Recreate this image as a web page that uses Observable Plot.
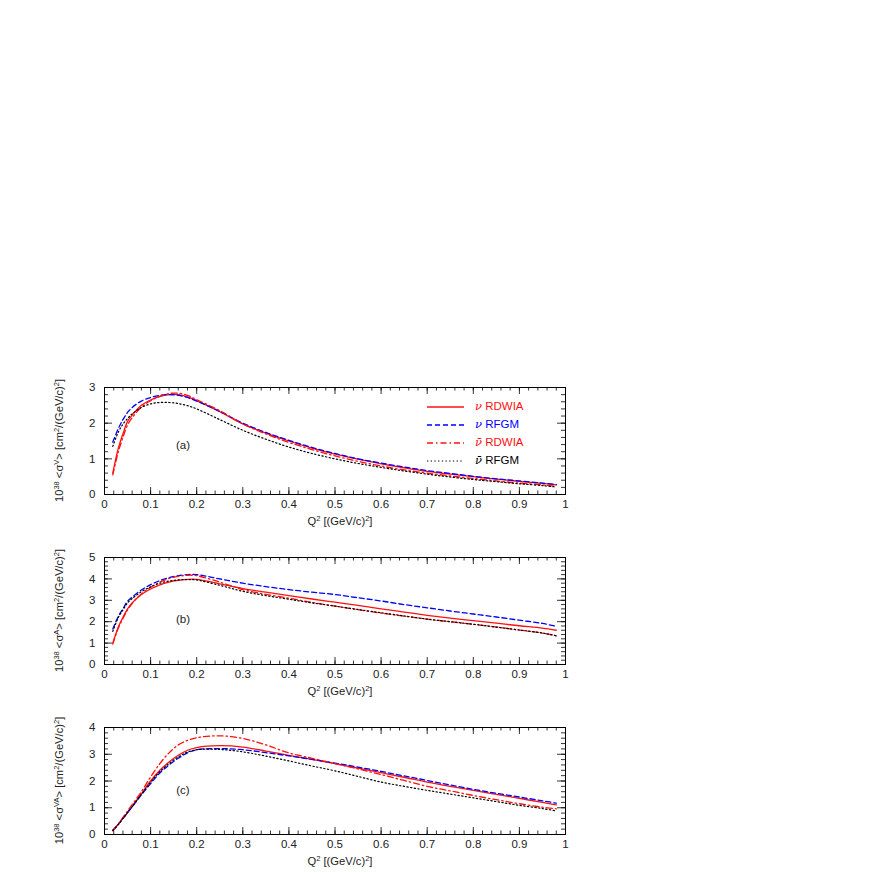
<!DOCTYPE html>
<html>
<head>
<meta charset="utf-8">
<script src="https://cdn.jsdelivr.net/npm/d3@7"></script>
<script src="https://cdn.jsdelivr.net/npm/@observablehq/plot@0.6"></script>
<style>
  html, body { margin: 0; padding: 0; background: #fff; }
  #wrap { position: relative; width: 872px; height: 872px; overflow: hidden; }
  #wrap svg { position: absolute; left: 0; }
</style>
</head>
<body>
<div id="wrap"></div>
<script>
// ---------------- data ----------------
const q2 = [0.018,0.03,0.04,0.05,0.06,0.08,0.10,0.12,0.14,0.16,0.18,0.20,0.25,0.30,0.35,0.40,0.45,0.50,0.55,0.60,0.65,0.70,0.75,0.80,0.85,0.90,0.95,0.98];

const seriesNames = ["ν RDWIA", "ν RFGM", "ν̄ RDWIA", "ν̄ RFGM"];

// panel (a): <sigma^V>
const aNuRDWIA  = [0.60,1.30,1.70,2.05,2.22,2.50,2.65,2.75,2.80,2.80,2.74,2.63,2.32,1.98,1.72,1.50,1.30,1.13,0.99,0.86,0.75,0.65,0.57,0.50,0.43,0.37,0.31,0.27];
const aNuRFGM   = [1.47,1.85,2.10,2.30,2.44,2.62,2.72,2.78,2.80,2.78,2.72,2.62,2.33,2.00,1.74,1.52,1.32,1.15,1.00,0.88,0.77,0.67,0.59,0.51,0.44,0.38,0.32,0.28];
const aNubRDWIA = [0.55,1.20,1.60,1.95,2.15,2.45,2.63,2.75,2.83,2.84,2.78,2.66,2.35,1.98,1.70,1.46,1.26,1.08,0.93,0.80,0.69,0.60,0.52,0.45,0.38,0.32,0.27,0.23];
const aNubRFGM  = [1.35,1.75,1.97,2.13,2.26,2.44,2.54,2.58,2.58,2.55,2.49,2.40,2.10,1.80,1.55,1.33,1.15,1.00,0.87,0.76,0.66,0.57,0.49,0.42,0.36,0.30,0.25,0.21];

// panel (b): <sigma^A>
const bNuRDWIA  = [1.00,1.75,2.20,2.60,2.88,3.27,3.53,3.72,3.85,3.93,3.98,3.98,3.77,3.55,3.38,3.22,3.06,2.91,2.76,2.60,2.45,2.30,2.17,2.05,1.93,1.81,1.70,1.60];
const bNuRFGM   = [1.66,2.25,2.60,2.96,3.15,3.48,3.73,3.92,4.06,4.15,4.20,4.20,4.00,3.80,3.64,3.50,3.38,3.27,3.12,2.97,2.80,2.65,2.50,2.36,2.22,2.07,1.92,1.78];
const bNubRDWIA = [0.95,1.70,2.15,2.55,2.85,3.30,3.60,3.85,4.02,4.12,4.17,4.15,3.85,3.50,3.28,3.10,2.90,2.73,2.56,2.40,2.26,2.12,2.00,1.88,1.75,1.61,1.47,1.34];
const bNubRFGM  = [1.55,2.20,2.55,2.88,3.08,3.40,3.63,3.80,3.90,3.95,3.97,3.95,3.70,3.42,3.22,3.05,2.88,2.73,2.57,2.42,2.27,2.12,2.00,1.88,1.75,1.61,1.47,1.34];

// panel (c): <sigma^VA>
const cNuRDWIA  = [0.15,0.38,0.60,0.82,1.05,1.52,2.00,2.40,2.71,2.96,3.15,3.25,3.32,3.27,3.12,2.96,2.81,2.65,2.48,2.31,2.14,1.96,1.80,1.65,1.50,1.35,1.20,1.11];
const cNuRFGM   = [0.15,0.38,0.60,0.82,1.04,1.48,1.90,2.30,2.60,2.85,3.05,3.17,3.21,3.17,3.06,2.94,2.81,2.67,2.52,2.36,2.19,2.02,1.85,1.69,1.54,1.40,1.26,1.17];
const cNubRDWIA = [0.15,0.40,0.64,0.88,1.12,1.60,2.15,2.65,3.05,3.35,3.52,3.62,3.69,3.59,3.35,3.05,2.85,2.65,2.45,2.24,2.02,1.80,1.63,1.46,1.30,1.15,1.02,0.96];
const cNubRFGM  = [0.15,0.38,0.60,0.82,1.04,1.50,1.95,2.35,2.65,2.90,3.08,3.17,3.18,3.09,2.93,2.75,2.56,2.38,2.17,1.96,1.80,1.65,1.51,1.37,1.23,1.09,0.97,0.88];

// tick labels
const xTicks = [0,0.1,0.2,0.3,0.4,0.5,0.6,0.7,0.8,0.9,1];
const xTickLabels = ["0","0.1","0.2","0.3","0.4","0.5","0.6","0.7","0.8","0.9","1"];
const yTicksA = [0,1,2,3];
const yTicksB = [0,1,2,3,4,5];
const yTicksC = [0,1,2,3,4];

// ---------------- styling ----------------
const FONT = "'Liberation Sans', Arial, Helvetica, sans-serif";
const RED = "#ff1010", BLUE = "#0000ff", BLACK = "#000";
const styles = [
  {stroke: RED,   dash: null,            width: 1.3},
  {stroke: BLUE,  dash: "5,3",           width: 1.3},
  {stroke: RED,   dash: "6,3,1.5,3",     width: 1.3},
  {stroke: BLACK, dash: "1.3,2.4",       width: 1.2}
];
const W = 872, H = 164, ML = 104, MR = 307, MT = 17, MB = 40;
const innerW = W - ML - MR, innerH = H - MT - MB;

function table(arrs) {
  const rows = [];
  arrs.forEach((arr, s) => arr.forEach((v, i) => rows.push({q: q2[i], v, s})));
  return rows;
}

function supText(g, parts, size, supSize) {
  let prev = 0;
  parts.forEach(([t, s]) => {
    const ts = g.append("tspan").text(t);
    const shift = s ? -4.5 : 0;
    ts.attr("dy", shift - prev);
    if (s) ts.attr("font-size", supSize);
    prev = shift;
  });
}

function panel(arrs, yMax, yTicks, sup, letter, top, legend) {
  const rows = table(arrs);
  const xMinor = d3.range(0, 1.0001, 0.02);
  const yMinor = d3.range(0, yMax + 0.0001, 0.2);
  const tickM = 7, tickm = 3.5;
  const marks = [];
  styles.forEach((st, s) => {
    marks.push(Plot.line(rows.filter(r => r.s === s), {
      x: "q", y: "v", stroke: st.stroke, strokeWidth: st.width,
      strokeDasharray: st.dash, curve: "catmull-rom"
    }));
  });
  marks.push(Plot.tickX(xMinor, {x: d => d, insetTop: innerH - tickm, stroke: "#000", strokeWidth: 0.8}));
  marks.push(Plot.tickX(xTicks, {x: d => d, insetTop: innerH - tickM, stroke: "#000", strokeWidth: 0.8}));
  marks.push(Plot.tickX(xMinor, {x: d => d, insetBottom: innerH - tickm, stroke: "#000", strokeWidth: 0.8}));
  marks.push(Plot.tickX(xTicks, {x: d => d, insetBottom: innerH - tickM, stroke: "#000", strokeWidth: 0.8}));
  marks.push(Plot.tickY(yMinor, {y: d => d, insetRight: innerW - 4, stroke: "#000", strokeWidth: 0.8}));
  marks.push(Plot.tickY(yTicks, {y: d => d, insetRight: innerW - 8, stroke: "#000", strokeWidth: 0.8}));
  marks.push(Plot.tickY(yMinor, {y: d => d, insetLeft: innerW - 4, stroke: "#000", strokeWidth: 0.8}));
  marks.push(Plot.tickY(yTicks, {y: d => d, insetLeft: innerW - 8, stroke: "#000", strokeWidth: 0.8}));
  marks.push(Plot.axisX(xTicks, {tickSize: 0, tickPadding: 5, label: null, fontSize: 11.5,
    tickFormat: d => xTickLabels[xTicks.indexOf(d)], fill: "#222"}));
  marks.push(Plot.axisY(yTicks, {tickSize: 0, tickPadding: 9, label: null, fontSize: 11.5,
    tickFormat: d => String(d), fill: "#222"}));
  marks.push(Plot.frame({stroke: "#000", strokeWidth: 1}));

  const svg = Plot.plot({
    width: W, height: H,
    marginLeft: ML, marginRight: MR, marginTop: MT, marginBottom: MB,
    x: {domain: [0, 1]},
    y: {domain: [0, yMax]},
    style: {fontFamily: FONT, fontSize: "11px", background: "transparent", overflow: "visible"},
    marks
  });
  svg.style.top = top + "px";
  const g = d3.select(svg);

  const yt = g.append("text")
    .attr("transform", `translate(63,${MT + innerH / 2}) rotate(-90)`)
    .attr("text-anchor", "middle")
    .attr("font-family", FONT).attr("font-size", 11.2).attr("fill", "#222");
  supText(yt, [["10",0],["38",1],[" <σ",0],[sup,1],["> [cm",0],["2",1],["/(GeV/c)",0],["2",1],["]",0]], 11.2, 7.5);

  const xt = g.append("text")
    .attr("x", 340).attr("y", MT + innerH + 31)
    .attr("text-anchor", "middle")
    .attr("font-family", FONT).attr("font-size", 11.2).attr("fill", "#222");
  supText(xt, [["Q",0],["2",1],[" [(GeV/c)",0],["2",1],["]",0]], 11.2, 7.5);

  g.append("text").attr("x", 183).attr("y", letter.y)
    .attr("text-anchor", "middle").attr("dominant-baseline", "middle")
    .attr("font-family", FONT).attr("font-size", 11.5).attr("fill", "#222")
    .text(letter.t);

  if (legend) {
    const colorsTxt = [RED, BLUE, RED, BLACK];
    seriesNames.forEach((name, i) => {
      const y = 37 + i * 18;
      const st = styles[i];
      g.append("line").attr("x1", 427).attr("x2", 464).attr("y1", y).attr("y2", y)
        .attr("stroke", st.stroke).attr("stroke-width", st.width)
        .attr("stroke-dasharray", st.dash);
      const t = g.append("text").attr("x", 475).attr("y", y).attr("dominant-baseline", "middle")
        .attr("text-anchor", "start")
        .attr("font-family", FONT).attr("font-size", 11.5).attr("fill", colorsTxt[i]);
      const sp = name.indexOf(" ");
      t.append("tspan").attr("font-style", "italic").attr("font-family", "'DejaVu Serif', serif").text(name.slice(0, sp));
      t.append("tspan").text(" " + name.slice(sp + 1));
    });
  }
  document.getElementById("wrap").appendChild(svg);
}

panel([aNuRDWIA, aNuRFGM, aNubRDWIA, aNubRFGM], 3, yTicksA, "V", {t: "(a)", y: 76}, 370, true);
panel([bNuRDWIA, bNuRFGM, bNubRDWIA, bNubRFGM], 5, yTicksB, "A", {t: "(b)", y: 80}, 540, false);
panel([cNuRDWIA, cNuRFGM, cNubRDWIA, cNubRFGM], 4, yTicksC, "VA", {t: "(c)", y: 81}, 710, false);
</script>
</body>
</html>
